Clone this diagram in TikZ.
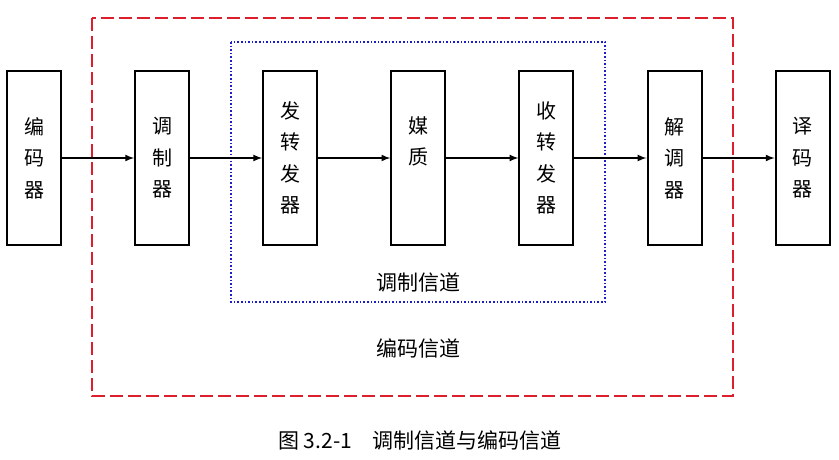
\documentclass[tikz,border=0pt]{standalone}
\usepackage{fontspec}
\setmainfont{Noto Sans CJK SC}
\definecolor{codred}{RGB}{220,30,45}
\definecolor{modblue}{RGB}{30,30,200}
\begin{document}
\begin{tikzpicture}[x=1pt,y=-1pt]
    \tikzstyle{unit}=[draw=black,line width=2pt,minimum width=54pt,minimum height=174pt,inner sep=0pt,align=center,font=\fontsize{20}{31.5}\selectfont]
    \tikzstyle{lbl}=[font=\fontsize{21}{24}\selectfont,inner sep=0pt]
    \pgfsetarrowsend{latex}
    \tikzstyle{fwd} = [draw=black, line width=2pt]

    \def\dx{128.1}
    \def\ox{34}
    \def\by{158}

    \useasboundingbox (0,0) rectangle (839,460);

    % channels
    \draw[codred, line width=1.8pt, dash pattern=on 13pt off 5pt] (92,18) rectangle (733,396);
    \draw[modblue, line width=1.6pt, dotted] (231,42) rectangle (605,302);

    \node[unit]  (enc) at (\ox+0*\dx,\by) {编\\码\\器};
    \node[unit]  (mod) at (\ox+1*\dx,\by) {调\\制\\器};
    \node[unit]  (tx)  at (\ox+2*\dx,\by) {发\\转\\发\\器};
    \node[unit]  (med) at (\ox+3*\dx,\by) {媒\\质\\[-6pt]\strut};
    \node[unit]  (rx)  at (\ox+4*\dx,\by) {收\\转\\发\\器};
    \node[unit]  (dem) at (\ox+5*\dx,\by) {解\\调\\器};
    \node[unit]  (dec) at (\ox+6*\dx,\by) {译\\码\\器};

   \draw [fwd] (enc) -- (mod);
   \draw [fwd] (mod) -- (tx);
   \draw [fwd] (tx) -- (med);
   \draw [fwd] (med) -- (rx);
   \draw [fwd] (rx) -- (dem);
   \draw [fwd] (dem) -- (dec);

    \node[lbl] (modch) at (418,283) {调制信道};
    \node[lbl] (codch) at (418,348) {编码信道};
    \node[lbl,anchor=west] (cap) at (278,440) {图 3.2-1\quad 调制信道与编码信道};

\end{tikzpicture}
\end{document}
